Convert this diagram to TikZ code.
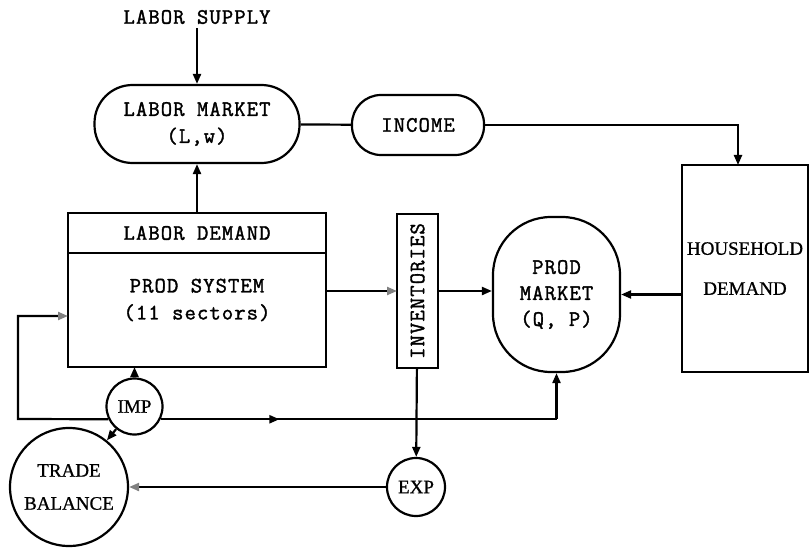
\documentclass[tikz,border=0pt]{standalone}
\usepackage{fontspec}
\setmainfont{Liberation Serif}[FakeBold=0.8]
\setmonofont{Latin Modern Mono}[LetterSpace=5,FakeBold=1.6]
\usetikzlibrary{positioning}
\usetikzlibrary{arrows.meta}
\usetikzlibrary{decorations.markings}
\tikzset{fwd/.style = {-{Triangle[length=10pt,width=8pt]}}}
\tikzset{fwdgray/.style = {-{Triangle[length=10pt,width=8pt,fill=gray,color=gray]}}}
\tikzset{midfwd/.style = {decoration={markings,
                                  mark=at position #1
                                  with {\arrow{Triangle[length=10pt,width=8pt]}}},
                      postaction={decorate}}}
\tikzset{box/.style = {draw, rectangle, inner sep=0, outer sep=0}}
\tikzset{pill/.style = {draw, rectangle, rounded corners=#1, inner sep=0}}
\tikzset{circ/.style = {draw, circle, inner sep=0}}
\tikzset{tt/.style = {font=\ttfamily\fontsize{22}{27}\selectfont, align=center}}
\tikzset{rm/.style = {font=\rmfamily\fontsize{19}{33}\selectfont, align=center}}
\tikzset{
  every picture/.style={
    every path/.style={line width=2.2pt},
  }
}

\begin{document}
\begin{tikzpicture}[x=1pt,y=-1pt]
        \useasboundingbox (0,0) rectangle (810,548);
        \node[tt] (lsup) at (197,17) {LABOR SUPPLY};
        \node[pill=38pt, tt, minimum width=205, minimum height=78] (labmkt) at (197,124) {LABOR MARKET\\(L,w)};
        \node[pill=29pt, tt, minimum width=132, minimum height=60] (income) at (418,125) {INCOME};
        \node[box, rm, font=\rmfamily\fontsize{19}{40}\selectfont, minimum width=126, minimum height=207] (hhd) at (745,268.5) {HOUSEHOLD\\DEMAND};
        \node[box, tt, minimum width=258, minimum height=40] (labdem) at (197,233) {LABOR DEMAND};
        \node[box, minimum width=258, minimum height=114, below=0pt of labdem] (prodsys) {};
        \node[tt] (prodtxt) at (197,300) {PROD SYSTEM\\(11 sectors)};
        \node[box, tt, minimum width=41, minimum height=154] (inv) at (417.5,291) {\rotatebox{90}{INVENTORIES}};
        \node[pill=58pt, tt, font=\ttfamily\fontsize{22}{26}\selectfont, minimum width=127, minimum height=155] (pmkt) at (556.5,294.5) {PROD\\MARKET\\(Q, P)};
        \node[circ, rm, minimum size=56] (imp) at (134.5,406.5) {IMP};
        \node[circ, rm, minimum size=118] (trade) at (69,487) {TRADE\\BALANCE};
        \node[circ, rm, minimum size=58] (exp) at (416,487) {EXP};
        \coordinate (lft) at (18,419);
        \coordinate (bend) at (pmkt.south |- imp.334);
        \draw[fwd] (lsup) -- (labmkt);
        \draw[fwd] (labdem) -- (labmkt);
        \draw (labmkt) -- (income);
        \draw[fwd] (income) -| ([xshift=-7pt]hhd.north);
        \draw[fwdgray] (prodsys.east |- inv.west) -- (inv.west);
        \draw[fwd] (inv.east) -- (inv.east -| pmkt.west);
        \draw[fwd] (hhd.west |- pmkt.east) -- (pmkt.east);
        \draw[fwd] (inv) -- (exp);
        \draw[fwdgray] (exp) -- (trade);
        \draw[fwd] (imp) -- (imp |- prodsys.south);
        \draw[fwd] (imp) -- (trade);
        \draw[fwdgray] (imp.206) -- (lft) |- ([yshift=-6pt]prodsys.west);
        \draw[midfwd=0.3] (imp.334) -- (bend);
        \draw[fwd] (bend) -- (pmkt.south);
    \end{tikzpicture}
\end{document}
